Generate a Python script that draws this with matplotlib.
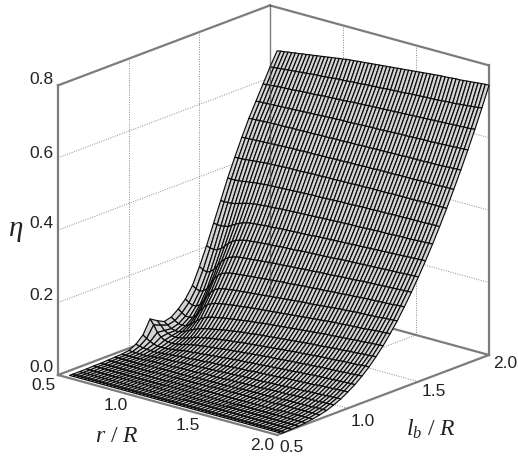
import numpy as np
import matplotlib
matplotlib.use('Agg')
import matplotlib.pyplot as plt
from mpl_toolkits.mplot3d import proj3d

plt.rcParams['mathtext.fontset'] = 'custom'
plt.rcParams['mathtext.it'] = 'Liberation Serif:italic'
plt.rcParams['mathtext.rm'] = 'Liberation Serif'

r_vals = [0.55, 0.575, 0.60, 0.625, 0.65, 0.675, 0.70, 0.725, 0.75, 0.775,
          0.80, 0.825, 0.85, 0.875, 0.90, 0.925, 0.95, 0.975, 1.00, 1.025,
          1.05, 1.075, 1.10, 1.125, 1.15, 1.175, 1.20, 1.225, 1.25, 1.275,
          1.30, 1.325, 1.35, 1.375, 1.40, 1.425, 1.45, 1.475, 1.50, 1.525,
          1.55, 1.575, 1.60, 1.625, 1.65, 1.675, 1.70, 1.725, 1.75, 1.775,
          1.80, 1.825, 1.85, 1.875, 1.90, 1.925, 1.95, 1.975, 2.00]
lb_vals = [0.53, 0.55, 0.60, 0.65, 0.70, 0.75, 0.80, 0.85, 0.90, 0.95, 1.00,
           1.05, 1.10, 1.15, 1.20, 1.25, 1.30, 1.35, 1.40, 1.45, 1.50,
           1.55, 1.60, 1.65, 1.70, 1.75, 1.80, 1.85, 1.90, 1.95, 2.00]

# eta in thousandths, one row per lb, one column per r
eta_milli = [
    [0] * 59,
    [0] * 59,
    [0] * 29 + [1] * 30,
    [0] * 9 + [1] * 30 + [2] * 20,
    [1] * 20 + [2] * 20 + [3] * 10 + [4] * 9,
    [1] * 9 + [2] * 10 + [3] * 10 + [4] * 10 + [5] * 10 + [6] * 5 + [7] * 5,
    [2,2,2,2,2,2,2,3,3,3, 3,3,3,4,4,4,4,4,4,5, 5,5,5,5,5,6,6,6,6,7, 7,7,7,7,7,8,8,8,8,8, 8,9,9,9,9,9,9,10,10,10, 10,10,10,11,11,11,11,11,11],
    [3,3,3,3,3,3,3,3,4,4, 5,5,5,6,6,6,6,6,6,7, 7,7,7,8,8,8,8,9,9,9, 9,10,10,10,10,11,11,11,11,12, 12,12,12,13,13,13,13,14,14,14, 14,15,15,15,15,16,16,16,16],
    [4,4,4,4,4,5,5,6,6,7, 7,8,8,8,8,9,9,10,10,10, 10,11,11,12,12,12,12,13,13,14, 14,14,14,15,15,16,16,16,16,17, 17,18,18,19,19,19,19,20,20,21, 21,22,22,22,22,23,23,24,24],
    [7,6,6,6,6,6,7,8,9,10, 10,11,11,12,12,13,13,14,14,15, 15,16,16,17,17,18,18,19,19,20, 20,21,21,22,22,22,22,23,23,24, 24,25,25,26,26,27,27,28,28,29, 29,30,30,31,31,32,32,33,33],
    [17,14,12,11,10,10,10,11,12,13, 14,15,16,17,17,18,19,20,20,21, 22,23,23,24,24,25,26,27,27,28, 28,29,30,31,31,32,32,33,33,34, 35,36,36,37,37,38,38,39,39,40, 41,42,42,43,43,44,44,45,45],
    [35,28,22,18,15,15,15,16,17,18, 20,22,23,24,25,26,27,28,29,30, 31,32,33,34,35,36,37,38,38,39, 40,41,41,42,43,44,44,45,46,47, 47,48,49,50,50,51,52,53,53,54, 54,55,55,56,56,57,57,58,58],
    [72,58,40,30,24,22,21,22,24,26, 29,31,33,35,36,38,39,40,41,42, 44,45,46,47,48,49,50,51,52,53, 54,55,56,57,57,58,59,60,61,62, 62,63,64,65,65,66,67,68,68,69, 69,70,70,71,72,72,73,74,74],
    [60,50,38,33,29,28,29,31,34,37, 41,44,46,48,50,52,53,55,56,58, 59,60,61,63,64,65,66,67,68,69, 70,71,72,73,74,75,76,77,78,79, 79,80,81,82,83,84,84,85,85,86, 87,88,88,89,89,90,91,92,92],
    [50,43,36,33,33,36,40,45,50,54, 58,61,63,65,67,69,71,73,74,76, 77,79,80,81,82,84,85,86,87,88, 89,90,91,92,93,94,95,96,97,98, 99,100,100,101,102,103,104,105,105,106, 107,108,108,109,110,111,111,112,113],
    [55,48,42,41,42,48,56,64,72,78, 82,85,87,89,91,93,94,96,97,99, 100,102,103,104,105,107,108,109,110,111, 112,113,114,115,116,117,118,119,120,121, 122,123,124,125,125,126,127,128,128,129, 130,131,131,132,133,134,134,135,136],
    [70,62,56,55,58,68,82,94,104,109, 113,115,117,119,120,122,123,124,125,127, 128,129,130,131,132,133,134,135,136,137, 138,139,140,141,142,143,144,145,146,147, 148,149,150,151,151,152,153,154,154,155, 155,156,157,158,159,160,160,161,162],
    [90,83,78,79,85,99,115,128,138,143, 146,148,149,151,152,153,154,155,156,157, 158,159,160,161,162,163,164,165,166,167, 168,169,170,171,171,172,173,174,175,176, 177,178,179,180,180,181,182,183,183,184, 184,185,185,186,187,188,188,189,190],
    [120,114,110,114,122,138,155,167,175,179, 182,184,185,186,187,188,189,190,191,192, 193,194,195,196,197,198,198,199,200,201, 202,203,203,204,205,206,206,207,208,209, 209,210,211,212,212,213,214,215,215,216, 216,217,217,218,218,219,220,221,221],
    [165,159,155,160,168,182,195,205,212,216, 219,221,222,223,224,225,226,227,228,229, 230,231,231,232,233,234,234,235,236,237, 237,238,239,240,240,241,241,242,243,244, 244,245,245,246,247,248,248,249,249,250, 250,251,251,252,252,253,253,254,254],
    [215,212,210,213,218,228,238,246,252,255, 258,260,261,262,263,264,265,266,266,267, 268,269,269,270,270,271,272,273,273,274, 274,275,275,276,276,277,278,279,279,280, 280,281,281,282,282,283,283,284,284,285, 285,286,286,287,287,288,288,289,289],
    [270,269,268,270,272,278,284,289,293,296, 298,299,300,301,302,303,303,304,305,306, 306,307,307,308,308,309,309,310,311,312, 312,313,313,314,314,315,315,316,316,317, 317,318,318,319,319,320,320,321,321,322, 322,323,323,324,324,325,325,326,326],
    [325,325,325,326,328,331,334,337,339,341, 342,343,344,345,345,346,347,348,348,349, 349,350,350,351,351,352,352,353,353,354, 354,355,355,356,356,357,357,357,357,358, 358,359,359,360,360,360,360,361,361,362, 362,362,362,363,363,364,364,365,365],
    [380,380,380,381,382,384,385,387,388,389, 390,391,391,392,392,393,393,394,394,395, 395,396,396,397,397,397,397,398,398,399, 399,400,400,400,400,401,401,402,402,402, 402,403,403,403,403,404,404,404,404,405, 405,405,405,405,405,406,406,406,406],
    [430,431,431,432,433,434,435,436,437,438, 438,439,439,440,440,441,441,441,441,442, 442,443,443,443,443,444,444,444,444,445, 445,445,445,446,446,446,446,447,447,447, 447,447,447,448,448,448,448,448,448,448, 448,449,449,449,449,449,449,449,449],
    [478,479,479,480,480,481,481,482,482,483, 483,484,484,485,485,485,485,486,486,486, 486,487,487,487,487,488,488,488,488,489, 489,489,489,490,490,490,490,491,491,491, 491,491,491,492,492,492,492,492,492,493, 493,493,493,493,493,494,494,494,494],
    [523,524,524,525,525,526,526,527,527,527, 527,528,528,528,528,529,529,529,529,530, 530,530,530,531,531,531,531,532,532,532, 532,533,533,533,533,534,534,534,534,535, 535,535,535,536,536,536,536,536,536,537, 537,537,537,538,538,539,539,540,540],
    [563,564,564,565,565,566,566,567,567,568, 568,569,569,570,570,571,571,572,572,573, 573,574,574,575,575,575,575,576,576,577, 577,578,578,578,578,579,579,580,580,581, 581,581,581,582,582,583,583,583,583,584, 584,585,585,586,586,587,587,588,588],
    [603,604,605,606,607,608,608,609,609,610, 611,612,612,613,613,614,615,616,616,617, 617,618,618,619,620,621,621,622,622,623, 623,624,624,625,625,626,626,627,627,628, 628,629,629,630,630,631,631,632,632,633, 633,634,634,635,635,636,636,637,638],
    [643,644,645,646,647,648,649,650,651,652, 653,654,655,656,656,657,658,659,660,661, 661,662,663,664,664,665,666,667,667,668, 668,669,670,671,671,672,672,673,674,675, 675,676,676,677,677,678,678,679,680,681, 681,682,683,684,685,686,687,688,690],
    [680,682,683,685,686,688,689,691,692,694, 695,697,698,700,701,703,704,706,707,709, 710,711,712,713,714,715,716,717,718,719, 720,721,722,723,724,725,726,727,728,729, 730,731,732,733,734,735,735,736,737,738, 738,739,740,741,742,743,744,745,745],
]

r_ticks = [0.5, 1.0, 1.5, 2.0]
lb_ticks = [0.5, 1.0, 1.5, 2.0]
eta_ticks = [0.0, 0.2, 0.4, 0.6, 0.8]

W, H = 518, 458
fig = plt.figure(figsize=(W / 100, H / 100), dpi=100)
ax = fig.add_axes([0, 0, 1, 1], projection='3d', proj_type='ortho', computed_zorder=False)
ax.set_axis_off()
ax.patch.set_alpha(0)
ax.view_init(elev=18.75, azim=-49.6)
ax.set_xlim(0.5, 2.0, view_margin=0)
ax.set_ylim(0.5, 2.0, view_margin=0)
ax.set_zlim(0.0, 0.8, view_margin=0)
aspect = (288, 327, 306)


def to_px(x, y, z):
    a, b, _ = proj3d.proj_transform(x, y, z, ax.get_proj())
    return ax.transData.transform((a, b))


# fit the box to the corners
ax.set_box_aspect(aspect, zoom=1)
fig.canvas.draw()
span = to_px(2, 2, 0)[0] - to_px(.5, .5, 0)[0]
ax.set_box_aspect(aspect, zoom=431 / span)
fig.canvas.draw()
p = to_px(.5, .5, 0)
box = ax.get_position()
ax.set_position([box.x0 + (58 - p[0]) / W, box.y0 + ((H - 375) - p[1]) / H, box.width, box.height])
fig.canvas.draw()

frame = dict(color='#7c7c7c', lw=1.6, zorder=2)
grid = dict(color='#888888', lw=0.7, ls=(0, (1, 1.5)), zorder=1)

for v in r_ticks[1:-1]:
    ax.plot([v, v], [.5, 2], [0, 0], **grid)
    ax.plot([v, v], [2, 2], [0, .8], **grid)
for v in lb_ticks[1:-1]:
    ax.plot([.5, 2], [v, v], [0, 0], **grid)
    ax.plot([.5, .5], [v, v], [0, .8], **grid)
for v in eta_ticks[1:-1]:
    ax.plot([.5, .5], [.5, 2], [v, v], **grid)
    ax.plot([.5, 2], [2, 2], [v, v], **grid)

ax.plot([.5, 2], [.5, .5], [0, 0], **frame)
ax.plot([2, 2], [.5, 2], [0, 0], **frame)
ax.plot([.5, 2], [2, 2], [0, 0], **frame)
ax.plot([.5, .5], [.5, 2], [0, 0], **frame)
ax.plot([.5, .5], [.5, .5], [0, .8], **frame)
ax.plot([2, 2], [2, 2], [0, .8], **frame)
ax.plot([.5, .5], [.5, 2], [.8, .8], **frame)
ax.plot([.5, 2], [2, 2], [.8, .8], **frame)

R, L = np.meshgrid(r_vals, lb_vals)
Z = np.array(eta_milli) / 1000
ax.plot_surface(R, L, Z, rstride=1, cstride=1, color='#d4d4d4', shade=False,
                edgecolor='#0c0c0c', linewidth=0.85, zorder=5, antialiased=True)

# back edge shows through the sheet
ax.plot([.5, .5], [2, 2], [0, .8], color='#444444', lw=1.0, alpha=0.7, zorder=6)

tick_font = dict(family='Liberation Sans', fontsize=12.5, color='#222222')
for v, ty in zip(eta_ticks, [367, 296, 223, 153, 80]):
    fig.text(54 / W, 1 - ty / H, f'{v:.1f}', ha='right', va='center', **tick_font)
for v, (tx, ty) in zip(r_ticks, [(44, 385), (116, 405), (188, 425), (262, 446)]):
    fig.text(tx / W, 1 - ty / H, f'{v:.1f}', ha='center', va='center', **tick_font)
for v, (tx, ty) in zip(lb_ticks, [(291, 447), (363, 421), (434, 392), (505, 364)]):
    fig.text(tx / W, 1 - ty / H, f'{v:.1f}', ha='center', va='center', **tick_font)

fig.text(117 / W, 1 - 437 / H, r'$r$ / $R$', fontsize=17, family='Liberation Serif',
         ha='center', va='center', color='#222222')
fig.text(431 / W, 1 - 429 / H, r'$l_b$ / $R$', fontsize=17, family='Liberation Serif',
         ha='center', va='center', color='#222222')
fig.text(16 / W, 1 - 229 / H, '\u03b7', fontsize=21, family='Liberation Serif', style='italic',
         ha='center', va='center', color='#222222')

fig.savefig('out.png', dpi=100)
